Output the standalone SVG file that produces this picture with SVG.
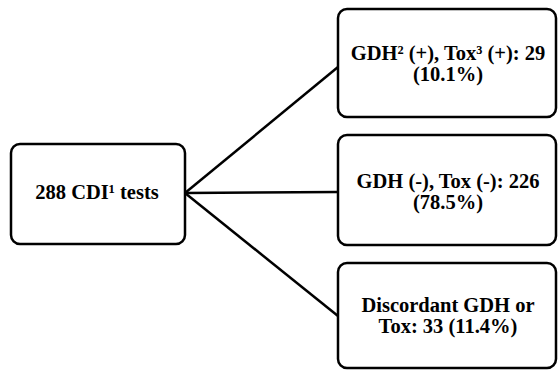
<svg xmlns="http://www.w3.org/2000/svg" width="558" height="370" viewBox="0 0 558 370">
<style>
.box{fill:#fff;stroke:#000;stroke-width:2.5}
.t{font-family:"Liberation Serif","Times New Roman",serif;font-weight:bold;font-size:20.5px;fill:#000;text-anchor:middle}
.c{stroke:#000;stroke-width:2.5;fill:none}
</style>
<rect width="558" height="370" fill="#fff"/>
<g id="connectors">
<line class="c" x1="185" y1="193" x2="338" y2="67"/>
<line class="c" x1="185" y1="193" x2="338" y2="192"/>
<line class="c" x1="185" y1="193" x2="338" y2="316"/>
</g>
<g id="root">
<rect class="box" x="11" y="144" width="174" height="100" rx="9"/>
<text class="t" x="97" y="199">288 CDI¹ tests</text>
</g>
<g id="pos">
<rect class="box" x="338" y="9" width="218" height="108" rx="9"/>
<text class="t" x="448" y="59.5">GDH² (+), Tox³ (+): 29</text>
<text class="t" x="448" y="80.5">(10.1%)</text>
</g>
<g id="neg">
<rect class="box" x="338" y="135" width="218" height="110" rx="9"/>
<text class="t" x="448" y="187.5">GDH (-), Tox (-): 226</text>
<text class="t" x="448" y="208.5">(78.5%)</text>
</g>
<g id="disc">
<rect class="box" x="338" y="263" width="218" height="105" rx="9"/>
<text class="t" x="448" y="311.5">Discordant GDH or</text>
<text class="t" x="448" y="332.5">Tox: 33 (11.4%)</text>
</g>
</svg>
